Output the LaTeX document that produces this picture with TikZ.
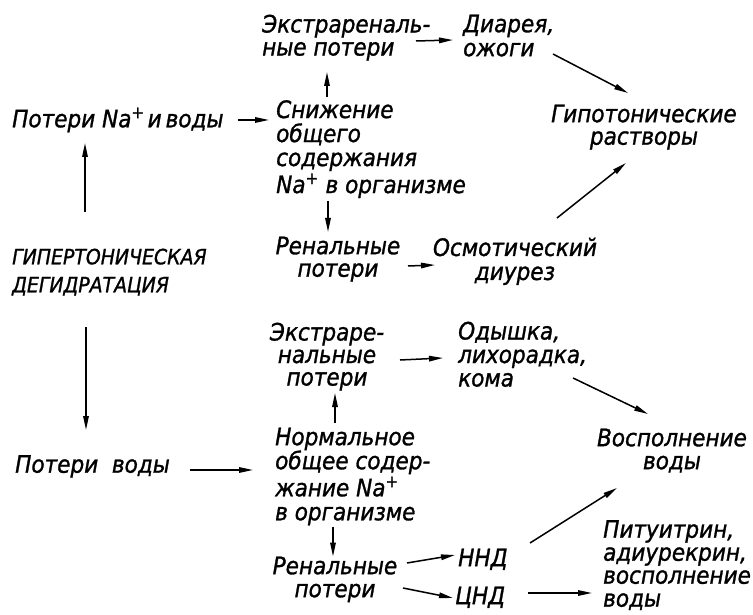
\documentclass[tikz,border=0pt]{standalone}
\usepackage{fontspec}
\setmainfont{DejaVu Sans Condensed}[FakeBold=1.2]
\usetikzlibrary{arrows.meta,calc}
\begin{document}
\begin{tikzpicture}[x=1pt,y=-1pt,
  lbl/.style={inner sep=0pt, align=left, anchor=north west, font={\itshape\fontsize{24}{#1}\selectfont}},
  lbl/.default=24,
  clbl/.style={inner sep=0pt, align=center, anchor=north, font={\itshape\fontsize{24}{#1}\selectfont}},
  clbl/.default=24,
  arr/.style={line width=1.5pt, -{Triangle[length=14pt,width=5.5pt]}}]
\fill[white] (0,0) rectangle (753,615);
\useasboundingbox (0,0) rectangle (753,615);

% nodes
\node[lbl] (potNa) at (12,107.5) {Потери Na\textsuperscript{+}\hspace{3pt}и\hspace{4pt}воды};
\node[lbl=24] (snizh) at (276,100) {Снижение\\общего\\содержания\\[1.5pt]Na\textsuperscript{+} в организме};
\node[lbl=23] (extra1) at (262,14.5) {Экстрареналь-\\ные потери};
\node[lbl=24] (diar) at (463,14.5) {Диарея,\\ ожоги};
\node[clbl=22.5] (gipo) at (644,104.5) {Гипотонические\\растворы};
\node[lbl=28,font={\itshape\fontsize{21}{28}\selectfont}] (giper) at (12,248.5) {ГИПЕРТОНИЧЕСКАЯ\\ДЕГИДРАТАЦИЯ};
\node[clbl=22.5] (renal1) at (338,236.5) {Ренальные\\потери};
\node[clbl=24] (osm) at (515,237.5) {Осмотический\\диурез};
\node[clbl=22.5] (extra2) at (327,322.5) {Экстраре-\\нальные\\потери};
\node[lbl=23.5] (odysh) at (458,321.5) {Одышка,\\лихорадка,\\ кома};
\node[clbl=23] (vospol) at (672,428.5) {Восполнение\\воды};
\node[lbl] (potV) at (15,455) {Потери\ \ воды};
\node[lbl=24] (norm) at (275,427.5) {Нормальное\\общее содер-\\[1.5pt]жание Na\textsuperscript{+}\\в организме};
\node[clbl=23] (renal2) at (335,556.5) {Ренальные\\потери};
\node[lbl] (nnd) at (458,548.5) {ННД};
\node[lbl] (cnd) at (455,586.5) {ЦНД};
\node[lbl=23] (pit) at (603,520) {Питуитрин,\\адиурекрин,\\восполнение\\воды};

% connectors
\draw[arr] ($(potNa.east)+(14,0)$) -- ($(potNa.east -| snizh.west)+(-7,0)$);
\draw[arr] ($(snizh.north west)+(51,-3)$) -- ($(extra1.north west)+(65,57.5)$);
\draw[arr] ($(snizh.north west)+(52,101)$) -- ($(renal1.north)+(-10,-4.5)$);
\draw[arr] ($(extra1.north west)+(154,26.5)$) -- ($(diar.north west)+(-10,25.5)$);
\draw[arr] ($(diar.north west)+(90,39.5)$) -- ($(gipo.north)+(-16,-11.5)$);
\draw[arr] ($(osm.north)+(42,-19.5)$) -- ($(gipo.north)+(-18,58.5)$);
\draw[arr] ($(renal1.north)+(70,29.5)$) -- ($(osm.north)+(-80,27.5)$);
\draw[arr] ($(giper.north west)+(73,-36.5)$) -- ($(potNa.north west)+(73,35.5)$);
\draw[arr] ($(giper.north west)+(74,78.5)$) -- ($(potV.north west)+(71,-25)$);
\draw[arr] ($(potV.north west)+(175,15)$) -- ($(norm.north west)+(-22,42.5)$);
\draw[arr] ($(norm.north west)+(60,-4.5)$) -- ($(extra2.north)+(8,70.5)$);
\draw[arr] ($(extra2.north)+(73,37.5)$) -- ($(odysh.north west)+(-15,36.5)$);
\draw[arr] ($(odysh.north west)+(115,56.5)$) -- ($(vospol.north)+(-24,-14.5)$);
\draw[arr] ($(norm.north west)+(58,99)$) -- ($(renal2.north)+(-2,0)$);
\draw[arr] ($(renal2.north)+(72,6.5)$) -- ($(nnd.north west)+(-3,6.5)$);
\draw[arr] ($(renal2.north)+(68,31.5)$) -- ($(cnd.north west)+(-2,11.5)$);
\draw[arr] ($(nnd.north west)+(72,-5.5)$) -- ($(vospol.north)+(-55,59.5)$);
\draw[arr] ($(cnd.north west)+(73,6.5)$) -- ($(pit.north west)+(-11,73)$);
\end{tikzpicture}
\end{document}
